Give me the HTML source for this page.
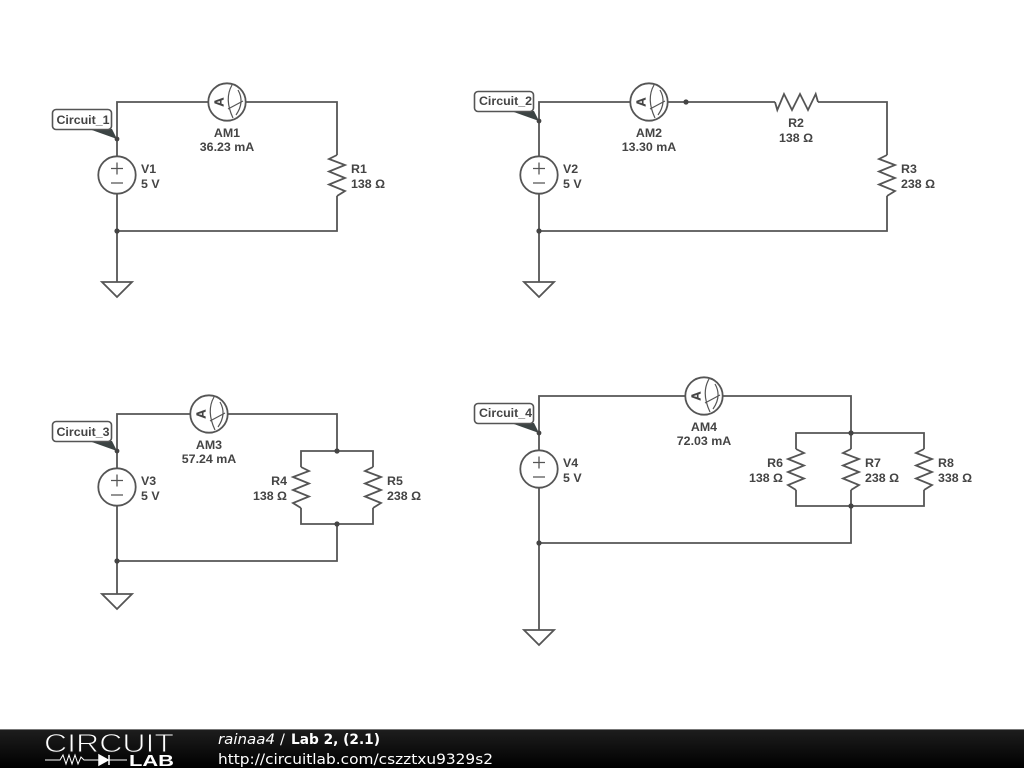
<!DOCTYPE html>
<html>
<head>
<meta charset="utf-8">
<style>
html,body{margin:0;padding:0;background:#fff;width:1024px;height:768px;overflow:hidden}
svg{display:block}
.w{fill:none;stroke:#555;stroke-width:1.8;stroke-linejoin:miter}
.t,.c{font:bold 12.4px "Liberation Sans",Arial,sans-serif;fill:#444;text-anchor:middle}
.l{font:bold 12.4px "Liberation Sans",Arial,sans-serif;fill:#444}
.r{font:bold 12.4px "Liberation Sans",Arial,sans-serif;fill:#444;text-anchor:end}
.f{font-family:"DejaVu Sans",sans-serif;fill:#fff}
</style>
</head>
<body>
<svg width="1024" height="768" viewBox="0 0 1024 768" xmlns="http://www.w3.org/2000/svg">
<defs>
<linearGradient id="bar" x1="0" y1="0" x2="0" y2="1">
<stop offset="0" stop-color="#1e1e1e"/><stop offset="1" stop-color="#000"/>
</linearGradient>
<g id="dot"><circle r="2.6" fill="#444"/></g>
<g id="am">
<circle r="18.7" fill="#fff" stroke="#555" stroke-width="1.8"/>
<text transform="translate(-3.6,0) rotate(-90)" text-anchor="middle" font-family="Liberation Sans, sans-serif" font-weight="bold" font-size="13" fill="#444" stroke="#444" stroke-width="0.3">A</text>
<path d="M5 -17 Q-3 -3 6 16 M11 -12 Q18 0 9 13 M1 7 L16 -1" fill="none" stroke="#555" stroke-width="1.2"/>
</g>
<g id="vs">
<circle r="18.7" fill="#fff" stroke="#555" stroke-width="1.8"/>
<path d="M-6 -6.5 H6 M0 -12.5 V-0.5 M-6 8 H6" fill="none" stroke="#555" stroke-width="1.3"/>
</g>
<path id="rv" d="M0 -20 L-8 -16 L8 -10 L-8 -3.5 L8 3 L-8 9.5 L8 16 L0 21" class="w"/>
<path id="rvf" d="M0 -20 L8 -16 L-8 -10 L8 -3.5 L-8 3 L8 9.5 L-8 16 L0 21" class="w"/>
<path id="rh" d="M-21 0 L-18.7 8 L-12 -8 L-4 8 L4 -8 L12 8 L19.7 -8 L22 0" class="w"/>
<path id="gnd" d="M-15 0 H15 L0 15 Z" fill="#fff" stroke="#555" stroke-width="1.8"/>
<g id="tag">
<path d="M37 20 L65 30 L60 20 Z" fill="#3c4444"/>
<rect x="0.5" y="0.5" width="59" height="20" rx="3.5" fill="#fff" stroke="#555" stroke-width="1.6"/>
<circle cx="65" cy="30" r="2.4" fill="#444"/>
</g>
</defs>

<rect width="1024" height="768" fill="#fff"/>

<!-- Circuit 1 -->
<path class="w" d="M117 282 V102 H337 V155 M337 196 V231 H117"/>
<use href="#am" x="227" y="102"/>
<use href="#vs" x="117" y="175"/>
<use href="#rv" x="337" y="175"/>
<use href="#gnd" x="117" y="282"/>
<use href="#dot" x="117" y="231"/>
<use href="#tag" x="52" y="109"/>
<text class="c" x="83" y="124">Circuit_1</text>
<text class="t" x="227" y="137">AM1</text>
<text class="t" x="227" y="151">36.23 mA</text>
<text class="l" x="141" y="173">V1</text>
<text class="l" x="141" y="188">5 V</text>
<text class="l" x="351" y="173">R1</text>
<text class="l" x="351" y="188">138 Ω</text>

<!-- Circuit 2 -->
<path class="w" d="M539 282 V102 H775 M818 102 H887 V155 M887 196 V231 H539"/>
<use href="#am" x="649" y="102"/>
<use href="#vs" x="539" y="175"/>
<use href="#rh" x="796" y="102"/>
<use href="#rv" x="887" y="175"/>
<use href="#gnd" x="539" y="282"/>
<use href="#dot" x="539" y="231"/>
<use href="#dot" x="686" y="102"/>
<use href="#tag" x="474" y="91"/>
<text class="c" x="505.5" y="105">Circuit_2</text>
<text class="t" x="649" y="137">AM2</text>
<text class="t" x="649" y="151">13.30 mA</text>
<text class="l" x="563" y="173">V2</text>
<text class="l" x="563" y="188">5 V</text>
<text class="t" x="796" y="127">R2</text>
<text class="t" x="796" y="142">138 Ω</text>
<text class="l" x="901" y="173">R3</text>
<text class="l" x="901" y="188">238 Ω</text>

<!-- Circuit 3 -->
<path class="w" d="M117 594 V414 H337 V451 M301 467 V451 H373 V467 M301 508 V524 H373 V508 M337 524 V561 H117"/>
<use href="#am" x="209" y="414"/>
<use href="#vs" x="117" y="487"/>
<use href="#rvf" x="301" y="487"/>
<use href="#rv" x="373" y="487"/>
<use href="#gnd" x="117" y="594"/>
<use href="#dot" x="117" y="561"/>
<use href="#dot" x="337" y="451"/>
<use href="#dot" x="337" y="524"/>
<use href="#tag" x="52" y="421"/>
<text class="c" x="83" y="436">Circuit_3</text>
<text class="t" x="209" y="449">AM3</text>
<text class="t" x="209" y="463">57.24 mA</text>
<text class="l" x="141" y="485">V3</text>
<text class="l" x="141" y="500">5 V</text>
<text class="r" x="287" y="485">R4</text>
<text class="r" x="287" y="500">138 Ω</text>
<text class="l" x="387" y="485">R5</text>
<text class="l" x="387" y="500">238 Ω</text>

<!-- Circuit 4 -->
<path class="w" d="M539 630 V396 H851 V449 M796 449 V433 H924 V449 M796 490 V506 H924 V490 M851 490 V543 H539"/>
<use href="#am" x="704" y="396"/>
<use href="#vs" x="539" y="469"/>
<use href="#rvf" x="796" y="469"/>
<use href="#rv" x="851" y="469"/>
<use href="#rv" x="924" y="469"/>
<use href="#gnd" x="539" y="630"/>
<use href="#dot" x="539" y="543"/>
<use href="#dot" x="851" y="433"/>
<use href="#dot" x="851" y="506"/>
<use href="#tag" x="474" y="403"/>
<text class="c" x="505.5" y="417">Circuit_4</text>
<text class="t" x="704" y="431">AM4</text>
<text class="t" x="704" y="445">72.03 mA</text>
<text class="l" x="563" y="467">V4</text>
<text class="l" x="563" y="482">5 V</text>
<text class="r" x="783" y="467">R6</text>
<text class="r" x="783" y="482">138 Ω</text>
<text class="l" x="865" y="467">R7</text>
<text class="l" x="865" y="482">238 Ω</text>
<text class="l" x="938" y="467">R8</text>
<text class="l" x="938" y="482">338 Ω</text>

<!-- Footer -->
<rect y="729" width="1024" height="39" fill="url(#bar)"/>
<rect y="729" width="1024" height="1" fill="#777"/>
<text x="44" y="752" font-family="Liberation Sans, sans-serif" font-size="26" fill="#fff" stroke="#181818" stroke-width="0.9" paint-order="fill stroke" textLength="130" lengthAdjust="spacingAndGlyphs">CIRCUIT</text>
<path d="M45 760 H60 L63 755 L66 764 L69 755 L72 764 L75 755 L78 764 L81 757 L84 760 H99 M109 760 H127" fill="none" stroke="#fff" stroke-width="1"/>
<path d="M99 755 L108 760 L99 765 Z M109 755 V765" fill="#fff" stroke="#fff" stroke-width="1.5"/>
<text x="129" y="766" font-family="Liberation Sans, sans-serif" font-size="16" font-weight="bold" fill="#fff" textLength="45" lengthAdjust="spacingAndGlyphs">LAB</text>
<text class="f" x="218" y="744" font-size="14.5" font-style="italic" textLength="57" lengthAdjust="spacingAndGlyphs">rainaa4</text>
<text class="f" x="280" y="744" font-size="14.5">/</text>
<text class="f" x="291" y="744" font-size="14.5" font-weight="bold" textLength="89" lengthAdjust="spacingAndGlyphs">Lab 2, (2.1)</text>
<text class="f" x="218" y="764" font-size="14.5" textLength="275" lengthAdjust="spacingAndGlyphs">http://circuitlab.com/cszztxu9329s2</text>
</svg>
</body>
</html>
